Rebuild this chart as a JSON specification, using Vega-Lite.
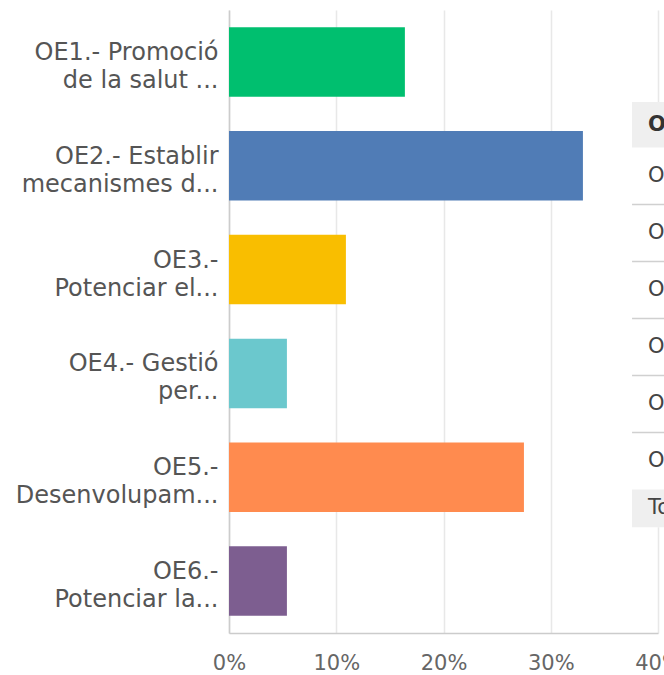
{
  "$schema": "https://vega.github.io/schema/vega-lite/v6.json",
  "autosize": {"type": "none"},
  "padding": {"left": 229, "top": 10, "right": 10, "bottom": 42},
  "width": 429,
  "height": 623,
  "config": {"view": {"stroke": null}, "font": "DejaVu Sans"},
  "datasets": {
    "bars": [
      {"option": "OE1.- Promoció|de la salut ...", "pct": 0.164},
      {"option": "OE2.- Establir|mecanismes d...", "pct": 0.330},
      {"option": "OE3.-|Potenciar el...", "pct": 0.109},
      {"option": "OE4.- Gestió|per...", "pct": 0.054},
      {"option": "OE5.-|Desenvolupam...", "pct": 0.275},
      {"option": "OE6.-|Potenciar la...", "pct": 0.054}
    ],
    "tableCells": [
      {"part": "a_bg", "y0": 0, "y1": 7.46, "x0": 0.3758, "x1": 0.56},
      {"part": "b_header", "y0": 0, "y1": 0.8, "x0": 0.3758, "x1": 0.56},
      {"part": "c_total", "y0": 6.8, "y1": 7.46, "x0": 0.3758, "x1": 0.56}
    ],
    "tableLines": [
      {"y": 1.8, "x0": 0.3758, "x1": 0.56},
      {"y": 2.8, "x0": 0.3758, "x1": 0.56},
      {"y": 3.8, "x0": 0.3758, "x1": 0.56},
      {"y": 4.8, "x0": 0.3758, "x1": 0.56},
      {"y": 5.8, "x0": 0.3758, "x1": 0.56}
    ],
    "tableText": [
      {"text": "OPCIONS DE RESPOSTA", "row": 0.4, "x": 0.3907, "header": true},
      {"text": "OE1.- Promoció de la salut ...", "row": 1.3, "x": 0.3907, "header": false},
      {"text": "OE2.- Establir mecanismes d...", "row": 2.3, "x": 0.3907, "header": false},
      {"text": "OE3.- Potenciar el...", "row": 3.3, "x": 0.3907, "header": false},
      {"text": "OE4.- Gestió per...", "row": 4.3, "x": 0.3907, "header": false},
      {"text": "OE5.- Desenvolupam...", "row": 5.3, "x": 0.3907, "header": false},
      {"text": "OE6.- Potenciar la...", "row": 6.3, "x": 0.3907, "header": false},
      {"text": "Total", "row": 7.13, "x": 0.3907, "header": false}
    ]
  },
  "layer": [
    {
      "data": {"name": "bars"},
      "mark": {"type": "bar"},
      "encoding": {
        "y": {
          "field": "option", "type": "nominal", "sort": null,
          "scale": {"paddingInner": 0.33, "paddingOuter": 0.165},
          "axis": {
            "title": null, "labelExpr": "split(datum.label, '|')",
            "labelFontSize": 24, "labelLineHeight": 28, "labelColor": "#555555",
            "labelPadding": 11, "labelOffset": -9, "ticks": false, "domainColor": "#cccccc",
            "domainWidth": 1.5, "labelLimit": 400
          }
        },
        "x": {
          "field": "pct", "type": "quantitative",
          "scale": {"domain": [0, 0.4], "nice": false},
          "axis": {
            "format": ".0%", "values": [0, 0.1, 0.2, 0.3, 0.4], "title": null,
            "ticks": false, "gridColor": "#e8e8e8", "gridWidth": 1.5,
            "labelFontSize": 21, "labelColor": "#666666", "labelPadding": 19,
            "labelFlush": false, "labelOverlap": false, "labelBound": false,
            "domainColor": "#cccccc", "domainWidth": 1.5
          }
        },
        "color": {
          "field": "option", "type": "nominal", "legend": null,
          "scale": {"range": ["#00BF6F", "#507CB6", "#F9BE00", "#6BC8CD", "#FF8B4F", "#7D5E90"]}
        }
      }
    },
    {
      "data": {"name": "tableCells"},
      "mark": {"type": "rect"},
      "encoding": {
        "x": {"field": "x0", "type": "quantitative", "scale": {"domain": [0, 0.4], "nice": false}, "title": null},
        "x2": {"field": "x1"},
        "y": {"field": "y0", "type": "quantitative", "scale": {"domain": [-1.614, 9.316], "reverse": true, "nice": false, "zero": false}, "axis": null},
        "y2": {"field": "y1"},
        "color": {"field": "part", "type": "nominal", "legend": null, "scale": {"range": ["#ffffff", "#efefef", "#efefef"]}}
      }
    },
    {
      "data": {"name": "tableLines"},
      "mark": {"type": "rule", "color": "#d0d0d0", "strokeWidth": 1.5},
      "encoding": {
        "x": {"field": "x0", "type": "quantitative", "scale": {"domain": [0, 0.4], "nice": false}, "title": null},
        "x2": {"field": "x1"},
        "y": {"field": "y", "type": "quantitative", "scale": {"domain": [-1.614, 9.316], "reverse": true, "nice": false, "zero": false}, "axis": null}
      }
    },
    {
      "data": {"name": "tableText"},
      "transform": [{"filter": "datum.header"}],
      "mark": {"type": "text", "align": "left", "baseline": "middle", "fontSize": 21, "fontWeight": "bold", "color": "#333333"},
      "encoding": {
        "x": {"field": "x", "type": "quantitative", "scale": {"domain": [0, 0.4], "nice": false}, "title": null},
        "y": {"field": "row", "type": "quantitative", "scale": {"domain": [-1.614, 9.316], "reverse": true, "nice": false, "zero": false}, "axis": null},
        "text": {"field": "text"}
      }
    },
    {
      "data": {"name": "tableText"},
      "transform": [{"filter": "!datum.header"}],
      "mark": {"type": "text", "align": "left", "baseline": "middle", "fontSize": 21, "color": "#444444"},
      "encoding": {
        "x": {"field": "x", "type": "quantitative", "scale": {"domain": [0, 0.4], "nice": false}, "title": null},
        "y": {"field": "row", "type": "quantitative", "scale": {"domain": [-1.614, 9.316], "reverse": true, "nice": false, "zero": false}, "axis": null},
        "text": {"field": "text"}
      }
    }
  ],
  "resolve": {"scale": {"y": "independent", "color": "independent"}}
}
